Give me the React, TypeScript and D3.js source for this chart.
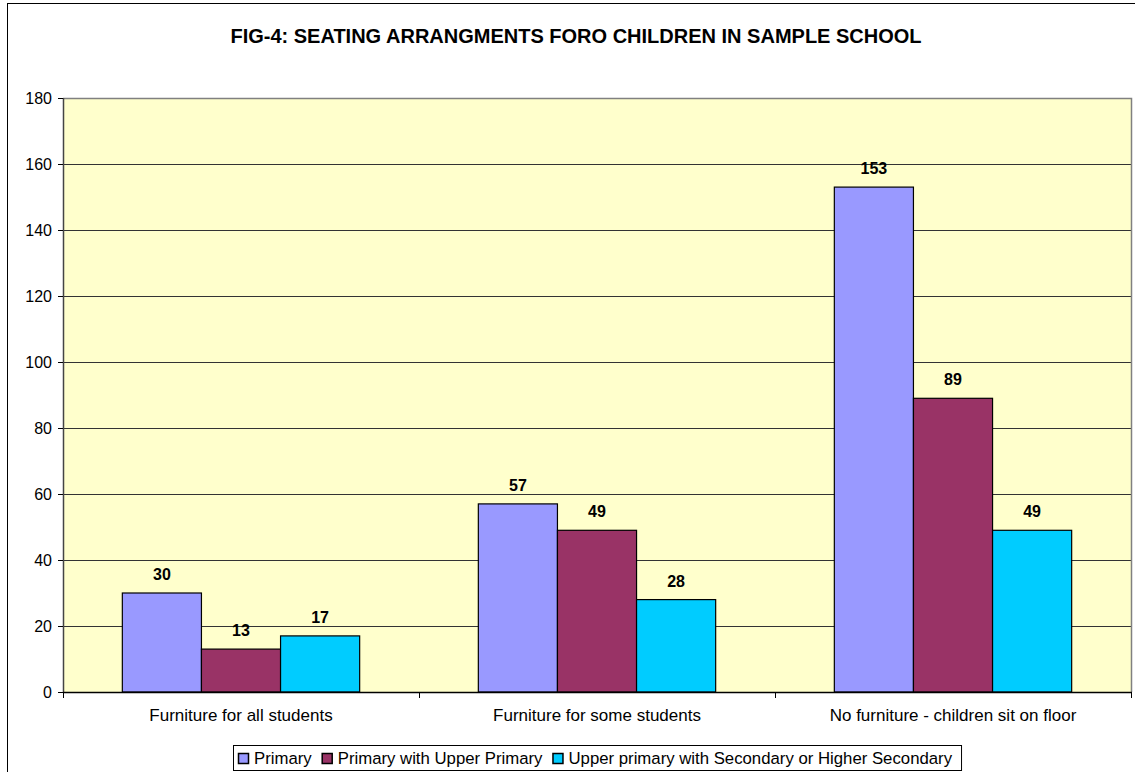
import React, { useEffect, useRef } from "react";
import * as d3 from "d3";

const categories = ["Furniture for all students", "Furniture for some students", "No furniture - children sit on floor"];
const seriesNames = ["Primary", "Primary with Upper Primary", "Upper primary with Secondary or Higher Secondary"];
const primary = [30, 57, 153];
const primaryUpper = [13, 49, 89];
const upperSecondary = [17, 28, 49];
const yTicks = [0, 20, 40, 60, 80, 100, 120, 140, 160, 180];
const colors = ["#9999FF", "#993366", "#00CCFF"];
const title = "FIG-4: SEATING ARRANGMENTS FORO CHILDREN IN SAMPLE SCHOOL";

const W = 1135;
const H = 772;
const FONT = "'Liberation Sans', Arial, sans-serif";

export default function App() {
  const ref = useRef<SVGSVGElement | null>(null);

  useEffect(() => {
    const svg = d3.select(ref.current);
    svg.selectAll("*").remove();
    const series = [primary, primaryUpper, upperSecondary];

    const left = 63, right = 1131, top = 98, bottom = 692;

    svg.append("rect").attr("x", 0).attr("y", 0).attr("width", W).attr("height", H).attr("fill", "#fff");
    svg.append("rect").attr("x", 7.5).attr("y", 3.5).attr("width", 1300).attr("height", 900)
      .attr("fill", "none").attr("stroke", "#000").attr("stroke-width", 1);

    svg.append("text").attr("x", 576).attr("y", 43).attr("text-anchor", "middle")
      .attr("font-family", FONT).attr("font-size", 20).attr("font-weight", "bold").text(title);

    const x0 = d3.scaleBand<string>().domain(categories).range([left, right]).paddingInner(0).paddingOuter(0);
    const groupW = x0.bandwidth();
    const barW = groupW / 4.5;
    const y = d3.scaleLinear().domain([0, 180]).range([bottom, top]);

    svg.append("rect").attr("x", left).attr("y", top).attr("width", right - left).attr("height", bottom - top)
      .attr("fill", "#FFFFCC");

    svg.append("g").selectAll("line").data(yTicks.filter(t => t > 0 && t < 180)).join("line")
      .attr("x1", left).attr("x2", right)
      .attr("y1", d => Math.round(y(d)) + 0.5).attr("y2", d => Math.round(y(d)) + 0.5)
      .attr("stroke", "#333").attr("stroke-width", 1);

    svg.append("path").attr("d", `M${left},${top + 0.5}H${right + 0.5}V${bottom}`)
      .attr("fill", "none").attr("stroke", "#808080").attr("stroke-width", 1.5);

    series.forEach((vals, si) => {
      svg.append("g").selectAll("rect").data(vals).join("rect")
        .attr("x", (d, i) => x0(categories[i])! + barW * 0.75 + si * barW)
        .attr("y", d => y(d))
        .attr("width", barW)
        .attr("height", d => y(0) - y(d))
        .attr("fill", colors[si]).attr("stroke", "#000").attr("stroke-width", 1.2);
      svg.append("g").selectAll("text").data(vals).join("text")
        .attr("x", (d, i) => x0(categories[i])! + barW * 0.75 + si * barW + barW / 2)
        .attr("y", d => y(d) - 13)
        .attr("text-anchor", "middle").attr("font-family", FONT).attr("font-size", 16)
        .attr("font-weight", "bold").text(d => String(d));
    });

    svg.append("line").attr("x1", left + 0.5).attr("x2", left + 0.5).attr("y1", top).attr("y2", bottom)
      .attr("stroke", "#444").attr("stroke-width", 1.5);
    svg.append("line").attr("x1", left).attr("x2", right + 1).attr("y1", bottom + 0.5).attr("y2", bottom + 0.5)
      .attr("stroke", "#000").attr("stroke-width", 1.5);

    const yt = svg.append("g");
    yt.selectAll("line").data(yTicks).join("line")
      .attr("x1", left - 5).attr("x2", left)
      .attr("y1", d => Math.round(y(d)) + 0.5).attr("y2", d => Math.round(y(d)) + 0.5)
      .attr("stroke", "#000");
    yt.selectAll("text").data(yTicks).join("text")
      .attr("x", left - 11).attr("y", d => y(d) + 6)
      .attr("text-anchor", "end").attr("font-family", FONT).attr("font-size", 16).text(d => String(d));

    const xtv = [left, ...categories.map(c => x0(c)! + groupW)];
    svg.append("g").selectAll("line").data(xtv).join("line")
      .attr("x1", d => Math.round(d) + 0.5).attr("x2", d => Math.round(d) + 0.5)
      .attr("y1", bottom).attr("y2", bottom + 6).attr("stroke", "#000");
    svg.append("g").selectAll("text").data(categories).join("text")
      .attr("x", d => x0(d)! + groupW / 2).attr("y", 721)
      .attr("text-anchor", "middle").attr("font-family", FONT).attr("font-size", 17).text(d => d);

    const lg = svg.append("g");
    const box = lg.append("rect").attr("fill", "#fff").attr("stroke", "#000").attr("stroke-width", 1);
    let cx = 238;
    seriesNames.forEach((n, i) => {
      lg.append("rect").attr("x", cx + 0.5).attr("y", 753.5).attr("width", 10).attr("height", 10)
        .attr("fill", colors[i]).attr("stroke", "#000").attr("stroke-width", 1.5);
      const t = lg.append("text").attr("x", cx + 16).attr("y", 764)
        .attr("font-family", FONT).attr("font-size", 16.75).text(n);
      const len = (t.node() as SVGTextElement).getComputedTextLength();
      cx = cx + 16 + len + (i < seriesNames.length - 1 ? 10 : 9);
    });
    box.attr("x", 233.5).attr("y", 745.5).attr("width", cx - 233).attr("height", 25);
  }, []);

  return (
    <svg ref={ref} width={W} height={H} style={{ position: "absolute", left: 0, top: 0, display: "block" }} />
  );
}
